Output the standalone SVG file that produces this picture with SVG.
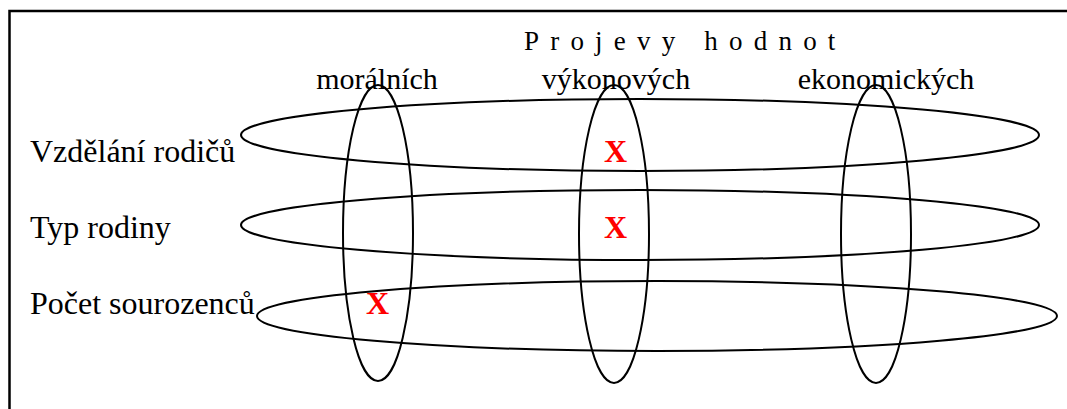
<svg xmlns="http://www.w3.org/2000/svg" width="1067" height="409" viewBox="0 0 1067 409">
<style>
.t{font-family:"Liberation Serif","Times New Roman",serif;fill:#000}
.x{font-family:"Liberation Serif","Times New Roman",serif;font-weight:bold;fill:#ff0000;font-size:32px}
.e{fill:none;stroke:#000;stroke-width:2}
.f{fill:none;stroke:#000;stroke-width:2.5}
</style>
<rect width="1067" height="409" fill="#fff"/>
<g id="frame"><path class="f" d="M9.5,409 V11 H1067"/></g>
<g id="title"><text class="t" x="524" y="50" font-size="27" letter-spacing="11.2">Projevy hodnot</text></g>
<g id="col-moralnich"><ellipse class="e" cx="378" cy="233" rx="35" ry="148"/><text class="t" x="377" y="89" font-size="30" text-anchor="middle">morálních</text></g>
<g id="col-vykonovych"><ellipse class="e" cx="614" cy="234" rx="35" ry="149"/><text class="t" x="616" y="89" font-size="30" text-anchor="middle">výkonových</text></g>
<g id="col-ekonomickych"><ellipse class="e" cx="876" cy="234" rx="35" ry="149"/><text class="t" x="886" y="89" font-size="30" text-anchor="middle">ekonomických</text></g>
<g id="row-vzdelani"><ellipse class="e" cx="640" cy="135" rx="399" ry="36"/><text class="t" x="30" y="162" font-size="32">Vzdělání rodičů</text></g>
<g id="row-typ"><ellipse class="e" cx="640" cy="225" rx="399" ry="35"/><text class="t" x="30" y="238" font-size="32">Typ rodiny</text></g>
<g id="row-pocet"><ellipse class="e" cx="657" cy="316" rx="400" ry="35"/><text class="t" x="30" y="314" font-size="32">Počet sourozenců</text></g>
<g id="marks">
<text class="x" x="604" y="162">X</text>
<text class="x" x="604" y="238">X</text>
<text class="x" x="366" y="314">X</text>
</g>
<g id="connectors"></g>
</svg>
